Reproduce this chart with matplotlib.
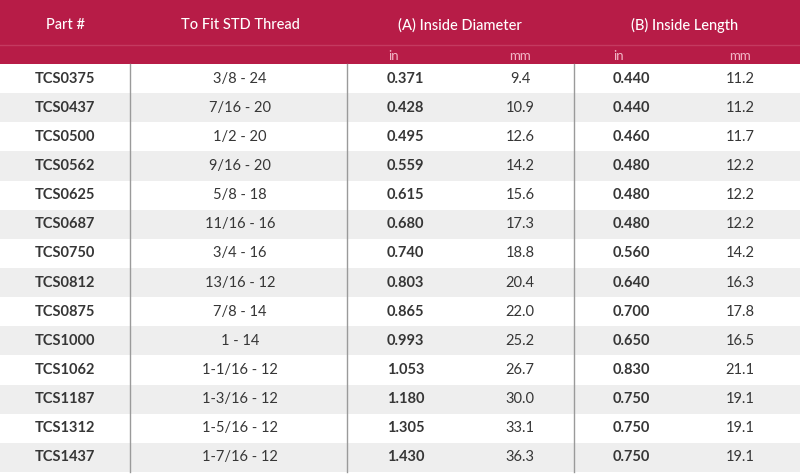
"""
recreate the TCS part size table as a matplotlib figure
"""
import matplotlib.pyplot as plt
from matplotlib.patches import Rectangle

plt.rcParams['font.family'] = ['Lato', 'DejaVu Sans']

#table data
part_numbers = ['TCS0375', 'TCS0437', 'TCS0500', 'TCS0562', 'TCS0625', 'TCS0687', 'TCS0750',
                'TCS0812', 'TCS0875', 'TCS1000', 'TCS1062', 'TCS1187', 'TCS1312', 'TCS1437']
threads = ['3/8 - 24', '7/16 - 20', '1/2 - 20', '9/16 - 20', '5/8 - 18', '11/16 - 16', '3/4 - 16',
           '13/16 - 12', '7/8 - 14', '1 - 14', '1-1/16 - 12', '1-3/16 - 12', '1-5/16 - 12', '1-7/16 - 12']
diameter_in = ['0.371', '0.428', '0.495', '0.559', '0.615', '0.680', '0.740',
               '0.803', '0.865', '0.993', '1.053', '1.180', '1.305', '1.430']
diameter_mm = ['9.4', '10.9', '12.6', '14.2', '15.6', '17.3', '18.8',
               '20.4', '22.0', '25.2', '26.7', '30.0', '33.1', '36.3']
length_in = ['0.440', '0.440', '0.460', '0.480', '0.480', '0.480', '0.560',
             '0.640', '0.700', '0.650', '0.830', '0.750', '0.750', '0.750']
length_mm = ['11.2', '11.2', '11.7', '12.2', '12.2', '12.2', '14.2',
             '16.3', '17.8', '16.5', '21.1', '19.1', '19.1', '19.1']

header_titles = ['Part #', 'To Fit STD Thread', '(A) Inside Diameter', '(B) Inside Length']
sub_titles = ['in', 'mm', 'in', 'mm']

RED = '#b71c47'
GRAY = '#eeeeee'
TEXT = '#363636'

fig = plt.figure(figsize=(8, 4.74), dpi=100)
ax = fig.add_axes([0, 0, 1, 1])
ax.set_xlim(0, 800)
ax.set_ylim(474, 0)
ax.axis('off')

#header block
header_top = 0
header_bottom = 64
ax.add_patch(Rectangle((0, header_top), 800, header_bottom - header_top, color=RED, lw=0))
ax.plot([0, 800], [45, 45], color='#c43a60', lw=1)

header_x = [65, 240, 460, 685]
for x, t in zip(header_x, header_titles):
    ax.text(x, 25, t, color='white', fontsize=10.5, fontweight='medium', ha='center', va='center')

sub_x = [388, 520, 613, 740]
sub_ha = ['left', 'center', 'left', 'center']
for x, t, ha in zip(sub_x, sub_titles, sub_ha):
    ax.text(x, 56, t, color='#f2b6c6', fontsize=9.5, ha=ha, va='center')

#body rows
row_h = (472 - header_bottom) / len(part_numbers)
fs = 10.5
for i in range(len(part_numbers)):
    y0 = header_bottom + i * row_h
    yc = y0 + row_h / 2
    if i % 2 == 1:
        ax.add_patch(Rectangle((0, y0), 800, row_h, color=GRAY, lw=0))
    ax.text(65, yc, part_numbers[i], color=TEXT, fontsize=fs, fontweight='bold', ha='center', va='center')
    ax.text(240, yc, threads[i], color=TEXT, fontsize=fs, ha='center', va='center')
    ax.text(387, yc, diameter_in[i], color=TEXT, fontsize=fs, fontweight='bold', ha='left', va='center')
    ax.text(520, yc, diameter_mm[i], color=TEXT, fontsize=fs, ha='center', va='center')
    ax.text(613, yc, length_in[i], color=TEXT, fontsize=fs, fontweight='bold', ha='left', va='center')
    ax.text(740, yc, length_mm[i], color=TEXT, fontsize=fs, ha='center', va='center')

#column separators
for x in [130, 347, 574]:
    ax.plot([x, x], [header_bottom, 472], color='#9a9a9a', lw=1)

fig.savefig('out.png', dpi=100, facecolor='white')
